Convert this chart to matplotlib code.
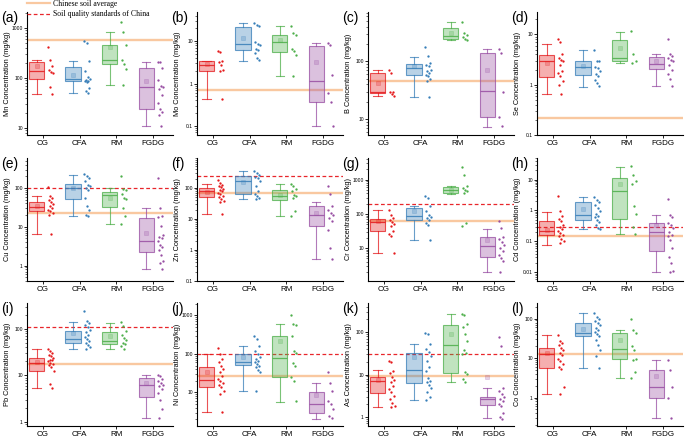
import numpy as np
import matplotlib
matplotlib.use("Agg")
import matplotlib.pyplot as plt
from matplotlib.lines import Line2D
from matplotlib.ticker import FixedLocator, FuncFormatter, LogLocator, NullFormatter
from matplotlib.font_manager import FontProperties

# ---------------- data ----------------
groups = ["CG", "CFA", "RM", "FGDG"]
elements = ["Mn", "Mo", "B", "Se", "Cu", "Zn", "Cr", "Cd", "Pb", "Ni", "As", "Co"]
letters = ["a", "b", "c", "d", "e", "f", "g", "h", "i", "j", "k", "l"]
soil_avg = [583, 0.7, 46, 0.22, 22.6, 69, 63, 0.15, 18, 27, 9.4, 13]
soil_std = [None, None, None, None, 100, 250, 200, 0.3, 110, 100, 30, None]
ylims = [(7.2, 2100), (0.061, 49), (5.3, 716), (0.1, 28), (0.4, 597), (0.1, 929),
         (1.1, 4300), (0.0052, 50), (0.82, 360), (1.35, 2090), (0.61, 488), (0.19, 250)]
yticks = [[10, 100, 1000], [0.1, 1, 10], [10, 100], [0.1, 1, 10], [1, 10, 100],
          [0.1, 1, 10, 100], [10, 100, 1000], [0.01, 0.1, 1, 10], [1, 10, 100],
          [10, 100, 1000], [1, 10, 100], [1, 10, 100]]

# box stats per group: [whisker low, Q1, median, Q3, whisker high, mean]
mn_box = [[48, 96, 140, 206, 233, 171], [50, 86, 97, 163, 222, 115],
          [74, 191, 233, 450, 832, 417], [11, 24, 66, 158, 209, 86]]
mn_pts = [[423, 229, 176, 145, 134, 124, 65, 48],
          [541, 501, 222, 136, 103, 97, 93, 88, 86, 82, 63, 54, 50],
          [1318, 832, 450, 233, 191, 151, 74],
          [209, 206, 158, 93, 70, 66, 60, 46, 32, 24, 21, 18.5, 11]]

mo_box = [[0.43, 1.95, 2.75, 3.36, 3.4, 2.9], [3.5, 6.1, 8.6, 21.9, 27, 11.6],
          [1.5, 5.5, 9.6, 14.4, 23.5, 10.6], [0.1, 0.36, 1.17, 7.6, 9.1, 3.2]]
mo_pts = [[5.8, 5.6, 3.5, 3.2, 2.7, 2.1, 1.95, 0.43],
          [27, 24.8, 22.7, 9.5, 8.6, 8.0, 6.6, 6.1, 5.3, 4.0, 3.55],
          [23.5, 15.8, 14.4, 6.6, 5.8, 4.8, 1.5],
          [9.1, 8.3, 1.6, 0.6, 0.37, 0.1]]

b_box = [[25.5, 28, 30, 63, 72, 42], [24, 57, 78, 90, 119, 82],
         [232, 245, 273, 381, 485, 312], [7.3, 10.7, 31, 140, 164, 72]]
b_pts = [[72, 63, 30, 29, 27, 25.5],
         [175, 122, 93, 87, 82, 72, 67, 63, 58.5, 55, 49, 45, 24],
         [480, 312, 285, 266, 245, 232],
         [164, 140, 30, 11, 7.6]]

se_box = [[0.65, 1.45, 2.97, 3.86, 6.6, 2.7], [0.89, 1.54, 2.26, 2.93, 4.86, 2.4],
          [2.7, 2.93, 3.37, 7.7, 11.3, 5.3], [0.95, 2.06, 2.6, 3.5, 4.1, 3.0]]
se_pts = [[8.2, 7.0, 4.1, 3.4, 3.16, 2.9, 2.5, 1.85, 1.7, 1.47, 1.16, 1.0, 0.65],
          [5.0, 3.0, 2.9, 2.3, 2.2, 1.85, 1.66, 1.47, 1.26, 1.08, 0.93],
          [11.7, 4.0, 3.0, 2.7],
          [8.2, 4.1, 3.8, 3.4, 3.16, 2.9, 2.5, 2.0, 1.66, 1.3, 0.95]]

cu_box = [[6.5, 25, 32.3, 42.6, 61, 33.5], [19.2, 52, 100, 127, 221, 100],
          [11.7, 31.6, 65, 77, 100, 55], [0.8, 2.3, 4.35, 16.8, 30.4, 6.9]]
cu_pts = [[104, 61, 57, 50, 43.5, 38.6, 33.5, 30.4, 27.5, 25, 22.6, 19.6, 6.5],
          [230, 200, 181, 148, 122, 110, 100, 90.5, 55, 33.5, 27.5, 20.5, 19.2],
          [208, 96, 90.5, 70, 55, 53, 30.4, 19.2, 11.7],
          [181, 30, 18.5, 17.5, 10.2, 6.2, 5.6, 5.1, 4.2, 3.4, 3.1, 2.55, 1.9, 1.3, 1.18, 0.82]]

zn_box = [[14.5, 51, 78, 100, 135, 72], [44, 64, 164, 238, 362, 156],
          [12.8, 42, 57, 84, 135, 61], [0.51, 6.1, 13.8, 25.6, 35, 15.6]]
zn_pts = [[185, 145, 128, 113, 105, 95, 88, 78, 69, 64, 57, 50, 44, 39, 35, 14.5],
          [362, 305, 256, 226, 210, 172, 113, 78, 64, 54, 48, 44],
          [135, 113, 95, 78, 61, 54, 48, 17.7, 12.8],
          [113, 64, 25.6, 20, 15.6, 13.2, 10.7, 8.4, 4.5, 1.17, 0.51]]

cr_box = [[7.1, 31, 60, 72, 127, 63], [17.5, 67.5, 88, 148, 173, 118],
          [381, 407, 510, 610, 638, 510], [2.07, 5.5, 11.7, 21, 36.8, 17]]
cr_pts = [[127, 95, 75, 67, 60, 52, 43, 32, 26, 22, 7],
          [326, 290, 166, 118, 95, 84, 75, 67.5, 54, 48, 17.5],
          [2300, 1340, 638, 570, 510, 455, 407, 54, 45],
          [63, 38, 21.7, 18, 15.6, 12.5, 10, 8.3, 6.4, 5.1, 4.1, 2.07]]

cd_box = [[0.077, 0.155, 0.22, 0.44, 0.87, 0.24], [0.25, 0.5, 0.73, 1.83, 2.67, 1.1],
          [0.17, 0.54, 4.4, 11.3, 25.2, 7.4], [0.01, 0.049, 0.2, 0.39, 0.69, 0.34]]
cd_pts = [[2.87, 0.93, 0.64, 0.54, 0.44, 0.34, 0.3, 0.26, 0.21, 0.18, 0.16, 0.145, 0.122, 0.1, 0.087],
          [2.67, 2.24, 1.88, 1.5, 1.2, 0.98, 0.77, 0.68, 0.6, 0.5, 0.42, 0.35, 0.28, 0.25],
          [27, 14.5, 9.1, 7.4, 1.36, 0.77, 0.3, 0.17],
          [2.35, 0.69, 0.63, 0.39, 0.34, 0.27, 0.2, 0.16, 0.145, 0.11, 0.06, 0.03, 0.02, 0.011, 0.01]]

pb_box = [[5.5, 12.5, 18.7, 24, 36.6, 19], [36.6, 51, 60, 92, 140, 82],
          [36.6, 48, 55.7, 86, 135, 69], [1.2, 3.5, 6.3, 8.8, 10.1, 7]]
pb_pts = [[36.6, 34, 31, 28, 26, 24, 22, 21, 20, 18.7, 17.4, 16.5, 15, 12.5, 6.6, 5.5],
          [243, 147, 135, 124, 109, 97, 85, 75, 67, 60, 54, 50, 45.5, 40.5, 36.6],
          [140, 115, 89, 75, 64, 58.5, 51, 48, 42, 36.6],
          [10.1, 9.5, 8.5, 7.7, 7, 6.3, 5.8, 5.2, 4.2, 2.9, 1.9, 1.24]]

ni_box = [[3.2, 13.5, 21, 47, 100, 34.6], [11, 51.6, 63, 100, 165, 82],
          [5.8, 24.6, 79, 289, 582, 214], [2.1, 3, 5, 10, 17.2, 8.7]]
ni_pts = [[143, 100, 74, 61, 50, 40.5, 33, 27, 23, 20, 18, 15.5, 13.5, 11, 9.4, 3.2],
          [283, 246, 165, 122, 100, 85, 74, 67, 61, 55, 50, 45, 38, 33, 11],
          [1000, 607, 548, 289, 122, 106, 57, 50, 25.7, 19.4, 6],
          [34.6, 17.2, 11, 6, 5, 3.7, 2.5, 2.2]]

as_box = [[1.73, 3.57, 6.9, 8.9, 12.8, 7.4], [2.5, 6.3, 13, 32.4, 53, 25.5],
          [6.5, 10.9, 51, 144, 272, 91], [0.93, 1.9, 2.6, 3, 4.8, 8.9]]
as_pts = [[21, 19.4, 12.3, 10.7, 8.9, 7.4, 6.5, 5.4, 4.5, 3.8, 3.15, 2.6, 2.1, 1.8, 1.73],
          [96, 91, 53, 40, 33.7, 28, 21, 14.8, 12.3, 8.2, 7.1, 6.5, 5.6, 4.7, 3.8, 2.9, 2.5],
          [272, 250, 158, 131, 91, 63, 37, 31.8, 30.6, 11.3, 10.3, 7.8, 6.5],
          [76, 48, 4.8, 4.1, 3.5, 3, 2.6, 2.4, 2.0, 1.8, 1.26, 0.97, 0.9]]

co_box = [[1.26, 5.7, 13, 18.5, 37.9, 13.8], [5.7, 35.7, 43.4, 77.6, 139, 55.8],
          [3.2, 9.7, 17.4, 43.4, 52.7, 29.4], [0.3, 0.98, 1.8, 5.1, 8.8, 3.5]]
co_pts = [[38, 27, 24, 21, 18.5, 15.8, 13.5, 11.8, 9.7, 8.5, 7, 6, 5.2, 1.9, 1.26],
          [139, 110, 100, 87, 78, 68, 59, 53, 46, 42, 35.7, 28, 21, 16.4, 11.2, 5.7],
          [100, 52.7, 43.4, 20, 15.8, 9.7, 9.2, 4.5, 3.2],
          [8.8, 5.1, 1.8, 0.98, 0.3]]

all_box = [mn_box, mo_box, b_box, se_box, cu_box, zn_box, cr_box, cd_box, pb_box, ni_box, as_box, co_box]
all_pts = [mn_pts, mo_pts, b_pts, se_pts, cu_pts, zn_pts, cr_pts, cd_pts, pb_pts, ni_pts, as_pts, co_pts]

# ---------------- style ----------------
colors = ["#E41A1C", "#377EB8", "#4DAF4A", "#984EA3"]
avg_color = "#F9C8A0"
std_color = "#E8262B"
sans = "Liberation Sans"

fig = plt.figure(figsize=(6.85, 4.38), dpi=100)
W, H = 685.0, 438.0
col_left = [27, 197, 368, 537]
row_top = [12, 158, 303]
ax_w, ax_h = 146, 123

pos = np.arange(1, 5)
fmt = FuncFormatter(lambda v, p: f"{v:g}")

for k in range(12):
    r, c = divmod(k, 4)
    ax = fig.add_axes([col_left[c] / W, 1 - (row_top[r] + ax_h) / H, ax_w / W, ax_h / H])
    ax.set_yscale("log")
    ax.set_ylim(*ylims[k])
    ax.set_xlim(0.56, 4.55)

    ax.axhline(soil_avg[k], color=avg_color, lw=1.7, zorder=1)
    if soil_std[k] is not None:
        ax.axhline(soil_std[k], color=std_color, lw=0.9, ls=(0, (3, 2)), zorder=1.5)

    stats = []
    for b in all_box[k]:
        stats.append(dict(whislo=b[0], q1=b[1], med=b[2], q3=b[3], whishi=b[4],
                          mean=b[5], fliers=[]))
    bp = ax.bxp(stats, positions=pos - 0.18, widths=0.42, patch_artist=True,
                showmeans=True, showfliers=False, capwidths=0.22, manage_ticks=False)
    for g in range(4):
        col = colors[g]
        bp["boxes"][g].set_facecolor(matplotlib.colors.to_rgba(col, 0.35))
        bp["boxes"][g].set_edgecolor(matplotlib.colors.to_rgba(col, 0.75))
        bp["boxes"][g].set_linewidth(0.8)
        bp["boxes"][g].set_zorder(2)
        bp["medians"][g].set_color(matplotlib.colors.to_rgba(col, 0.85))
        bp["medians"][g].set_linewidth(0.9)
        for wl in bp["whiskers"][2 * g:2 * g + 2] + bp["caps"][2 * g:2 * g + 2]:
            wl.set_color(matplotlib.colors.to_rgba(col, 0.75))
            wl.set_linewidth(0.8)
        m = bp["means"][g]
        m.set_marker("s")
        m.set_markersize(2.2)
        m.set_markerfacecolor(matplotlib.colors.to_rgba(col, 0.25))
        m.set_markeredgecolor(matplotlib.colors.to_rgba(col, 0.35))
        m.set_markeredgewidth(0.4)

        vals = np.array(all_pts[k][g], dtype=float)
        n = len(vals)
        offs = ((np.arange(n) * 0.381966) % 1.0 - 0.5) * 0.16
        ax.scatter(pos[g] + 0.21 + offs, vals, s=2.8, color=col, zorder=3, linewidths=0)

    for sp in ["top", "right"]:
        ax.spines[sp].set_visible(False)
    for sp in ["left", "bottom"]:
        ax.spines[sp].set_linewidth(0.8)
    ax.yaxis.set_major_locator(FixedLocator(yticks[k]))
    ax.yaxis.set_minor_locator(LogLocator(base=10, subs=np.arange(2, 10) * 1.0, numticks=20))
    ax.yaxis.set_minor_formatter(NullFormatter())
    ax.yaxis.set_major_formatter(fmt)
    ax.tick_params(axis="y", which="major", length=2.2, width=0.6, pad=0.8, labelsize=3.6)
    ax.tick_params(axis="y", which="minor", length=1.2, width=0.4)
    ax.set_xticks(pos)
    ax.set_xticklabels(groups, fontsize=5.8, family=sans)
    ax.tick_params(axis="x", length=1.8, width=0.6, pad=1.5)
    for t in ax.get_yticklabels():
        t.set_family(sans)
    ax.set_ylabel(f"{elements[k]} Concentration (mg/kg)", fontsize=5.3, family=sans)
    ax.yaxis.set_label_coords(-0.11, 0.5)
    ax.text(-0.175, 0.955, f"({letters[k]})", transform=ax.transAxes, fontsize=10,
            family=sans, ha="left", va="center")

handles = [Line2D([], [], color=avg_color, lw=1.6),
           Line2D([], [], color=std_color, lw=0.9, ls=(0, (3, 2)))]
fig.legend(handles, ["Chinese soil average", "Soil quality standards of China"],
           loc="upper left", bbox_to_anchor=(27 / W, 1.0),
           prop=FontProperties(family="Liberation Serif", size=5.6),
           frameon=False, handlelength=2.9, handletextpad=0.4, labelspacing=0.3,
           borderpad=0.0, borderaxespad=0.0)

fig.savefig("out.png", dpi=100)
